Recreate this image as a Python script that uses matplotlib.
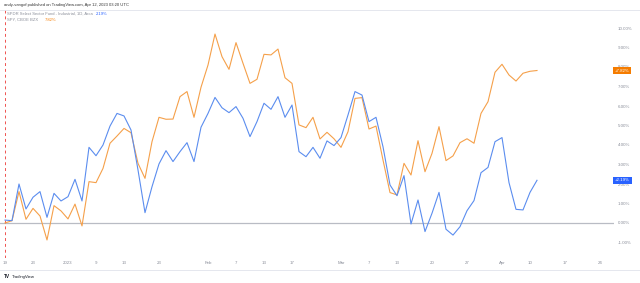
import numpy as np
import pandas as pd
import matplotlib
matplotlib.use("Agg")
import matplotlib.pyplot as plt

plt.rcParams['font.family'] = ['Liberation Sans', 'DejaVu Sans']

# market holidays in the window (no bars on these days)
holidays = ['2022-12-26', '2023-01-02', '2023-01-16', '2023-02-20', '2023-04-07']
dates = pd.bdate_range('2022-12-19', '2023-04-11', freq='C', holidays=holidays)

# % change since Dec 19, 2022
xli = [0.15, 0.12, 2.00, 0.72, 1.32, 1.61, 0.29, 1.52, 1.13, 1.35,
       2.24, 1.13, 3.88, 3.45, 4.00, 4.97, 5.62, 5.49, 4.77, 2.72,
       0.53, 1.86, 3.03, 3.71, 3.15, 3.66, 4.12, 3.15, 4.91, 5.62,
       6.44, 5.91, 5.66, 5.97, 5.37, 4.43, 5.20, 6.14, 5.83, 6.48,
       5.42, 6.05, 3.66, 3.40, 3.88, 3.32, 4.21, 3.97, 4.38, 5.54,
       6.74, 6.56, 5.20, 5.42, 3.91, 1.95, 1.40, 2.43, -0.05, 1.18,
       -0.44, 0.50, 1.57, -0.32, -0.62, -0.19, 0.63, 1.15, 2.58, 2.85,
       4.17, 4.38, 2.07, 0.70, 0.67, 1.57, 2.19]
spy = [0.00, 0.12, 1.61, 0.19, 0.75, 0.36, -0.87, 0.89, 0.62, 0.21,
       0.97, -0.15, 2.12, 2.07, 2.80, 4.09, 4.46, 4.85, 4.63, 3.06,
       2.29, 4.17, 5.42, 5.32, 5.33, 6.48, 6.74, 5.42, 6.96, 8.10,
       9.69, 8.53, 7.88, 9.25, 8.19, 7.16, 7.37, 8.65, 8.62, 8.92,
       7.45, 7.16, 5.03, 4.89, 5.42, 4.31, 4.65, 4.32, 3.88, 4.68,
       6.39, 6.43, 4.82, 4.97, 3.23, 1.56, 1.44, 3.06, 2.46, 4.22,
       2.63, 3.57, 4.94, 3.20, 3.44, 4.12, 4.32, 4.09, 5.62, 6.22,
       7.73, 8.14, 7.59, 7.28, 7.68, 7.78, 7.82]

tick_dates = ['2022-12-19', '2022-12-23', '2023-01-03', '2023-01-09', '2023-01-13',
              '2023-01-23', '2023-02-01', '2023-02-07', '2023-02-13', '2023-02-17',
              '2023-03-01', '2023-03-07', '2023-03-13', '2023-03-20', '2023-03-27',
              '2023-04-03', '2023-04-10', '2023-04-17', '2023-04-24']
tick_labels = ['19', '23', '2023', '9', '13', '23', 'Feb', '7', '13', '17',
               'Mar', '7', '13', '20', '27', 'Apr', '10', '17', '24']
y_ticks = [-1, 0, 1, 2, 3, 4, 5, 6, 7, 8, 9, 10]

BLUE = '#5b8def'
ORANGE = '#f5a04a'
GREY = '#8a8e99'


def bar_pos(d):
    # position on a trading-day axis
    return np.busday_count('2022-12-19', np.datetime64(d, 'D'), holidays=holidays)


x = np.array([bar_pos(d.date()) for d in dates])

fig = plt.figure(figsize=(6.4, 2.83), dpi=100)
ax = fig.add_axes([0.0, 25 / 283, 614 / 640, 248 / 283])

ax.axhline(0, color='#b9bcc4', lw=0.9, zorder=1)
ax.axvline(0, color='#ef5350', lw=0.7, ls=(0, (3, 3)), zorder=1)
ax.plot(x, spy, color=ORANGE, lw=0.8, zorder=3)
ax.plot(x, xli, color=BLUE, lw=0.8, zorder=4)

ax.set_xlim(-5 / 7, 609 / 7)
ax.set_ylim(-35 / 19.5, 213 / 19.5)
for s in ax.spines.values():
    s.set_visible(False)

ax.set_xticks([bar_pos(d) for d in tick_dates])
ax.set_xticklabels(tick_labels)
ax.tick_params(axis='x', length=0, pad=2.5, labelsize=3.2, labelcolor=GREY)

ax.yaxis.tick_right()
ax.set_yticks(y_ticks)
ax.set_yticklabels([f'{v:.2f}%' for v in y_ticks])
ax.tick_params(axis='y', length=0, pad=2.5, labelsize=3.2, labelcolor=GREY)

# last-value tags on the price scale
for val, col in [(spy[-1], '#f57c00'), (xli[-1], '#2962ff')]:
    ax.text(1.0 + 1 / 614, val, f'+{val:.2f}%', transform=ax.get_yaxis_transform(),
            ha='left', va='center', fontsize=3.2, color='white', zorder=6,
            bbox=dict(boxstyle='square,pad=0.35', fc=col, ec='none'))

# frame lines
fig.add_artist(plt.Line2D([0, 1], [1 - 270 / 283] * 2, color='#e0e3eb', lw=0.6))
fig.add_artist(plt.Line2D([0, 1], [1 - 9.5 / 283] * 2, color='#e0e3eb', lw=0.6))

# header and legend
fig.text(4 / 640, 1 - 5 / 283, 'andy-vangof published on TradingView.com, Apr 12, 2023 03:20 UTC',
         fontsize=3.0, color='#333333', va='center')
fig.text(7 / 640, 1 - 14 / 283, 'SPDR Select Sector Fund - Industrial, 1D, Arca',
         fontsize=3.0, color=GREY, va='center')
fig.text(96 / 640, 1 - 14 / 283, '2.19%', fontsize=3.0, color='#2962ff', va='center')
fig.text(7 / 640, 1 - 20 / 283, 'SPY, CBOE BZX', fontsize=3.0, color=GREY, va='center')
fig.text(45 / 640, 1 - 20 / 283, '7.82%', fontsize=3.0, color='#f57c00', va='center')

# footer logo
fig.text(4 / 640, 1 - 277 / 283, 'TV', fontsize=3.4, fontweight='bold', color='#131722', va='center')
fig.text(12 / 640, 1 - 277 / 283, 'TradingView', fontsize=3.1, color='#131722', va='center')

fig.savefig('out.png', dpi=100)
